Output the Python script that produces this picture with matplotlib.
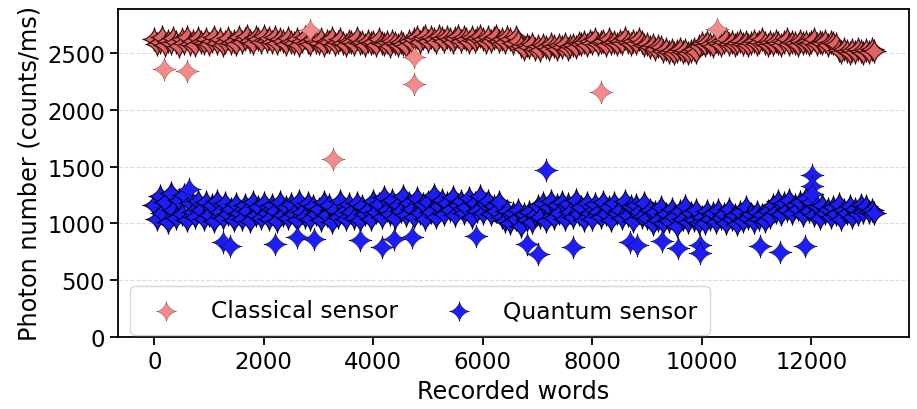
import matplotlib
matplotlib.use('Agg')
import matplotlib.pyplot as plt
import numpy as np
from matplotlib.path import Path

# recorded words (one sample every 50 words)
words = list(range(0, 13200, 50))

# classical sensor, photon number (counts/ms)
classical = [
    2620, 2580, 2600, 2640, 2570, 2610, 2590, 2630, 2600, 2560, 2620, 2590, 2640, 2580, 2610, 2570, 2630, 2600, 2590, 2620,
    2580, 2610, 2640, 2590, 2620, 2570, 2600, 2630, 2590, 2610, 2580, 2640, 2600, 2620, 2650, 2610, 2590, 2640, 2620, 2600,
    2650, 2610, 2630, 2600, 2640, 2590, 2620, 2610, 2580, 2630, 2600, 2590, 2620, 2570, 2610, 2640, 2600, 2580, 2620, 2600,
    2590, 2620, 2570, 2610, 2600, 2630, 2580, 2600, 2620, 2590, 2570, 2610, 2600, 2580, 2630, 2590, 2600, 2570, 2610, 2590,
    2600, 2570, 2620, 2590, 2580, 2600, 2560, 2610, 2590, 2570, 2600, 2580, 2560, 2610, 2590, 2620, 2640, 2600, 2630, 2650,
    2610, 2640, 2620, 2600, 2650, 2630, 2610, 2640, 2620, 2600, 2630, 2650, 2610, 2640, 2620, 2600, 2640, 2610, 2630, 2650,
    2620, 2600, 2640, 2610, 2630, 2650, 2610, 2620, 2600, 2640, 2620, 2590, 2640, 2610, 2560, 2540, 2570, 2550, 2580, 2540,
    2560, 2530, 2570, 2550, 2540, 2580, 2560, 2540, 2570, 2550, 2580, 2540, 2560, 2570, 2550, 2590, 2580, 2600, 2570, 2610,
    2590, 2620, 2580, 2600, 2610, 2570, 2620, 2590, 2600, 2580, 2610, 2590, 2630, 2600, 2580, 2610, 2590, 2620, 2600, 2570,
    2580, 2550, 2570, 2540, 2560, 2550, 2520, 2540, 2510, 2530, 2500, 2520, 2540, 2510, 2530, 2500, 2520, 2540, 2510, 2560,
    2590, 2570, 2600, 2580, 2560, 2610, 2590, 2570, 2600, 2620, 2580, 2600, 2570, 2590, 2610, 2580, 2600, 2570, 2590, 2610,
    2580, 2600, 2620, 2590, 2570, 2600, 2580, 2610, 2590, 2570, 2600, 2620, 2580, 2600, 2590, 2570, 2610, 2590, 2600, 2580,
    2600, 2620, 2580, 2600, 2590, 2610, 2570, 2600, 2590, 2580, 2530, 2510, 2540, 2520, 2500, 2530, 2510, 2540, 2520, 2500,
    2530, 2510, 2540, 2520,
]

# quantum sensor, photon number (counts/ms)
quantum = [
    1160, 1040, 1240, 1090, 1190, 1010, 1270, 1120, 1050, 1210, 1080, 1250, 1030, 1180, 1100, 1060, 1200, 1120, 1040, 1190,
    1070, 1160, 1020, 1200, 1100, 1050, 1180, 1080, 1130, 1030, 1170, 1090, 1040, 1160, 1110, 1020, 1190, 1070, 1140, 1050,
    1180, 1090, 1040, 1160, 1110, 1020, 1190, 1070, 1140, 1050, 1170, 1080, 1030, 1200, 1100, 1060, 1180, 1040, 1150, 1080,
    1130, 1030, 1190, 1070, 1160, 1010, 1120, 1060, 1200, 1090, 1040, 1170, 1100, 1050, 1180, 1030, 1150, 1080, 1120, 1040,
    1200, 1100, 1170, 1060, 1230, 1120, 1080, 1210, 1050, 1160, 1110, 1240, 1070, 1180, 1130, 1060, 1220, 1090, 1170, 1040,
    1190, 1100, 1250, 1060, 1150, 1210, 1080, 1180, 1120, 1230, 1070, 1160, 1200, 1090, 1140, 1220, 1060, 1180, 1110, 1240,
    1090, 1170, 1200, 1080, 1150, 1110, 1190, 1060, 1020, 1110, 1000, 1090, 1040, 1120, 980, 1080, 1030, 1100, 1010, 1070,
    1150, 1060, 1180, 1020, 1140, 1200, 1050, 1160, 1090, 1190, 1040, 1170, 1100, 1060, 1210, 1080, 1140, 1030, 1180, 1090,
    1040, 1170, 1100, 1060, 1190, 1080, 1140, 1030, 1180, 1090, 1120, 1050, 1200, 1070, 1150, 1020, 1160, 1100, 1060, 1180,
    1050, 1120, 990, 1100, 1030, 1140, 1000, 1080, 1020, 1130, 1060, 980, 1110, 1040, 1150, 1010, 1090, 1030, 1120, 1000,
    1060, 1000, 1110, 1040, 1090, 1010, 1120, 1050, 1080, 1000, 1130, 1040, 1070, 990, 1100, 1020, 1140, 1050, 1080, 1010,
    1100, 1040, 1070, 1020, 1110, 1060, 1160, 1100, 1200, 1080, 1180, 1120, 1210, 1090, 1160, 1130, 1190, 1070, 1220, 1110,
    1190, 1070, 1150, 1050, 1160, 1090, 1130, 1060, 1140, 1080, 1170, 1040, 1120, 1090, 1150, 1060, 1130, 1080, 1160, 1100,
    1150, 1100, 1120, 1090,
]

# isolated readings away from the main band
classical_out_x = [170, 600, 2850, 3270, 4750, 4750, 8150, 10270]
classical_out_y = [2360, 2340, 2700, 1570, 2465, 2225, 2160, 2710]

quantum_out_x = [630, 1250, 1380, 2210, 2600, 2910, 3760, 4160, 4370, 4700,
                 5880, 6800, 7015, 7160, 7640, 8680, 8810, 9270, 9570, 9970,
                 9970, 11060, 11420, 11890, 12020, 12020, 12020]
quantum_out_y = [1300, 840, 800, 821, 880, 865, 850, 792, 865, 880,
                 889, 821, 733, 1466, 792, 836, 806, 845, 780, 806,
                 740, 803, 750, 803, 1430, 1330, 1255]

# 4-pointed star marker (astroid)
t = np.linspace(0, 2 * np.pi, 81)
star = Path(np.column_stack([np.cos(t) ** 3, np.sin(t) ** 3]), closed=True)

fig, ax = plt.subplots(figsize=(9.17, 4.10), dpi=100)
fig.subplots_adjust(left=0.129, right=0.991, bottom=0.176, top=0.976)

# dense bands: heavier dark outlines, like the crowded original
ax.scatter(words, classical, s=280, marker=star,
           facecolor='#e06464', edgecolor='#3a0a0a', linewidth=0.8, zorder=3)
ax.scatter(words, quantum, s=280, marker=star,
           facecolor='#1d1dfa', edgecolor='#00001e', linewidth=0.75, zorder=3)
# isolated readings
ax.scatter(classical_out_x, classical_out_y, s=280, marker=star,
           facecolor='#f58a8a', edgecolor='#8a5050', linewidth=0.35,
           label='Classical sensor', zorder=3)
ax.scatter(quantum_out_x, quantum_out_y, s=280, marker=star,
           facecolor='#1d1dfa', edgecolor='#05052a', linewidth=0.35,
           label='Quantum sensor', zorder=3)

ax.set_xlim(-657, 13779)
ax.set_ylim(0, 2890)
ax.set_yticks([0, 500, 1000, 1500, 2000, 2500])
ax.set_xticks(range(0, 13000, 2000))
ax.tick_params(labelsize=16.4, width=1.3, length=6)
for sp in ax.spines.values():
    sp.set_linewidth(1.3)
ax.yaxis.grid(True, linestyle='--', color='#dddddd', linewidth=0.8)
ax.set_axisbelow(True)

ax.set_xlabel('Recorded words', fontsize=17.3)
ax.set_ylabel('Photon number (counts/ms)', fontsize=17.3)

ax.legend(loc='lower left', bbox_to_anchor=(0.0152, 0.006), borderaxespad=0,
          ncol=2, fontsize=16.8, markerscale=0.85, borderpad=0.55,
          handletextpad=0.9, columnspacing=1.6)

fig.savefig('out.png')
